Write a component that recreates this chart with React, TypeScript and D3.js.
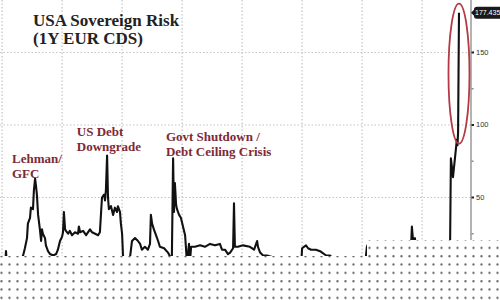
import React from "react";
import * as d3 from "d3";

// time in decimal years (as positioned on the chart) and 1Y EUR CDS level (bp)
const years = [
  2007.47, 2007.57, 2007.6, 2007.63, 2007.73, 2008.07, 2008.17, 2008.23, 2008.3, 2008.33,
  2008.4, 2008.43, 2008.5, 2008.53, 2008.57, 2008.6, 2008.63, 2008.67, 2008.73, 2008.77,
  2008.8, 2008.83, 2008.9, 2008.93, 2009.0, 2009.07, 2009.17, 2009.27, 2009.33, 2009.4,
  2009.47, 2009.5, 2009.53, 2009.57, 2009.6, 2009.67, 2009.73, 2009.8, 2009.9, 2010.0,
  2010.03, 2010.07, 2010.17, 2010.27, 2010.4, 2010.47, 2010.57, 2010.67, 2010.73, 2010.77,
  2010.8, 2010.87, 2010.9, 2010.93, 2010.97, 2011.0, 2011.03, 2011.1, 2011.17, 2011.23,
  2011.3, 2011.33, 2011.4, 2011.43, 2011.47, 2011.5, 2011.57, 2011.67, 2011.73, 2011.8,
  2011.9, 2012.0, 2012.07, 2012.13, 2012.23, 2012.33, 2012.4, 2012.43, 2012.47, 2012.53,
  2012.6, 2012.67, 2012.73, 2012.87, 2013.0, 2013.1, 2013.13, 2013.17, 2013.2, 2013.23,
  2013.27, 2013.3, 2013.37, 2013.43, 2013.5, 2013.57, 2013.6, 2013.63, 2013.67, 2013.7,
  2013.73, 2013.77, 2013.9, 2014.07, 2014.23, 2014.4, 2014.57, 2014.73, 2014.8, 2014.9,
  2015.0, 2015.07, 2015.17, 2015.2, 2015.23, 2015.33, 2015.5, 2015.73, 2015.87, 2015.97,
  2016.0, 2016.07, 2016.17, 2016.3, 2016.47, 2016.6, 2016.73, 2016.93, 2017.0, 2017.27,
  2017.33, 2017.43, 2017.47, 2017.6, 2017.67, 2017.77, 2017.93, 2018.07, 2018.27, 2018.4,
  2018.5, 2018.6, 2018.73, 2019.57, 2019.6, 2019.63, 2019.67, 2019.8, 2020.73, 2021.07,
  2021.1, 2021.13, 2021.17, 2021.23, 2021.27, 2021.73, 2022.07, 2022.37, 2022.4, 2022.43,
  2022.47, 2022.5, 2022.53, 2022.57, 2022.6, 2022.63, 2022.65, 2022.67, 2022.7,
];
const cds = [
  0, 3, 13, 3, 2, 5, 10, 15, 22, 32,
  36, 43, 42, 55, 63, 58, 52, 38, 28, 20,
  28, 25, 22, 17, 13, 11, 10, 11, 14, 20,
  23, 26, 40, 28, 27, 25, 27, 24, 26, 25,
  30, 26, 27, 24, 28, 26, 25, 24, 26, 40,
  50, 52, 48, 55, 79, 50, 42, 44, 38, 43,
  40, 44, 40, 32, 25, 10, 5, 3, 8, 20,
  22, 20, 18, 14, 16, 14, 18, 38, 32, 28,
  24, 20, 16, 15, 12, 8, 10, 77, 40, 60,
  45, 42, 38, 36, 30, 24, 15, 5, 12, 18,
  5, 16, 16, 17, 16, 18, 17, 18, 14, 14,
  11, 12, 15, 46, 16, 16, 17, 16, 14, 20,
  16, 12, 10, 10, 9, 5, 0, 0, 8, 8,
  0, 0, 15, 17, 15, 14, 14, 13, 10, 10,
  8, 3, 0, 0, 10, 16, 18, 15, 12, 12,
  15, 30, 20, 22, 15, 10, 10, 10, 10, 77,
  70, 64, 70, 78, 84, 90, 86, 95, 177.435,
];
const gridYears = [2007.47, 2009.47, 2011.47, 2013.47, 2015.47, 2017.47, 2019.47, 2021.47];
const yTicks = [50, 100, 150];
const yMinorTicks = [25, 75, 125];
const lastLabel = "177.435";
const annotations = [
  { lines: ["Lehman/", "GFC"], year: 2007.8, level: 74 },
  { lines: ["US Debt", "Downgrade"], year: 2009.96, level: 92.5 },
  { lines: ["Govt Shutdown /", "Debt Ceiling Crisis"], year: 2012.93, level: 89 },
];

export default function App() {
  const W = 500;
  const H = 300;
  const x = d3.scaleLinear().domain([2007.4, 2023.067]).range([0, 470]);
  const y = d3.scaleLinear().domain([0, 186.2]).range([270, 0]);
  const pts = years.map((t, i) => [t, cds[i]] as [number, number]);
  const line = d3
    .line<[number, number]>()
    .x((d) => x(d[0]))
    .y((d) => y(d[1]));
  const axisX = 471;
  const serif = "'Liberation Serif', 'DejaVu Serif', serif";
  const sans = "'Liberation Sans', Arial, sans-serif";
  const maroon = "#7d2a36";
  const lastYear = years[years.length - 1];
  const lastVal = cds[cds.length - 1];
  const ly = y(lastVal);

  return (
    <svg
      width={W}
      height={H}
      style={{ position: "absolute", left: 0, top: 0, background: "#fff" }}
    >
      <defs>
        <pattern id="dots" patternUnits="userSpaceOnUse" x={-2} y={256 - 1} width={8} height={8.33}>
          <rect x={0} y={0} width={8} height={8.33} fill="#fff" />
          <circle cx={3.5} cy={1.2} r={1.1} fill="#666" />
        </pattern>
      </defs>
      <rect x={0} y={0} width={W} height={H} fill="#fff" />
      {/* gridlines */}
      {gridYears.map((g) => (
        <line
          key={"v" + g}
          x1={x(g)}
          x2={x(g)}
          y1={0}
          y2={260}
          stroke="#c4c4c4"
          strokeWidth={1.2}
          strokeDasharray="1.5,2"
        />
      ))}
      {yTicks.map((v) => (
        <line
          key={"h" + v}
          x1={0}
          x2={axisX}
          y1={y(v)}
          y2={y(v)}
          stroke="#c4c4c4"
          strokeWidth={1.2}
          strokeDasharray="1.5,2"
        />
      ))}
      {/* right axis */}
      <line x1={axisX} x2={axisX} y1={0} y2={260} stroke="#9a9a9a" strokeWidth={1.5} />
      {yTicks.map((v) => (
        <g key={"t" + v}>
          <rect x={axisX + 0.5} y={y(v) - 1} width={2.5} height={2} fill="#222" />
          <text
            x={axisX + 5}
            y={y(v) + 2.5}
            fontFamily={sans}
            fontSize={7.5}
            fill="#333"
          >
            {v}
          </text>
        </g>
      ))}
      {yMinorTicks.map((v) => (
        <rect key={"m" + v} x={axisX + 0.5} y={y(v) - 0.75} width={2} height={1.5} fill="#888" />
      ))}
      {/* series */}
      <path
        d={line(pts) || ""}
        fill="none"
        stroke="#111"
        strokeWidth={2.1}
        strokeLinejoin="round"
      />
      {/* highlight ellipse */}
      <ellipse
        cx={x(lastYear)}
        cy={ly + 61}
        rx={10.5}
        ry={70}
        fill="none"
        stroke="#b53a43"
        strokeWidth={1.8}
      />
      {/* last value label */}
      <path
        d={`M${axisX} ${ly} L${axisX + 3} ${ly - 3} L${axisX + 3} ${ly - 3.5} Q${axisX + 3} ${ly - 6} ${axisX + 6} ${ly - 6} L505 ${ly - 6} L505 ${ly + 6} L${axisX + 6} ${ly + 6} Q${axisX + 3} ${ly + 6} ${axisX + 3} ${ly + 3.5} L${axisX + 3} ${ly + 3} Z`}
        fill="#1a1a1a"
      />
      <text
        x={axisX + 4}
        y={ly + 2.6}
        fontFamily={sans}
        fontSize={7}
        fill="#fff"
      >
        {lastLabel}
      </text>
      {/* title */}
      <text x={33} y={26} fontFamily={serif} fontWeight="bold" fontSize={17} fill="#222">
        USA Sovereign Risk
      </text>
      <text x={33} y={44} fontFamily={serif} fontWeight="bold" fontSize={17} fill="#222">
        (1Y EUR CDS)
      </text>
      {/* annotations */}
      {annotations.map((a, i) => (
        <text
          key={"a" + i}
          x={x(a.year)}
          y={y(a.level)}
          fontFamily={serif}
          fontWeight="bold"
          fontSize={13}
          fill={maroon}
        >
          {a.lines.map((l, j) => (
            <tspan key={j} x={x(a.year)} dy={j === 0 ? 0 : 15}>
              {l}
            </tspan>
          ))}
        </text>
      ))}
      {/* dotted mask at the bottom */}
      <path d="M0 256 L367 256 L367 240 L500 240 L500 300 L0 300 Z" fill="url(#dots)" />
    </svg>
  );
}
